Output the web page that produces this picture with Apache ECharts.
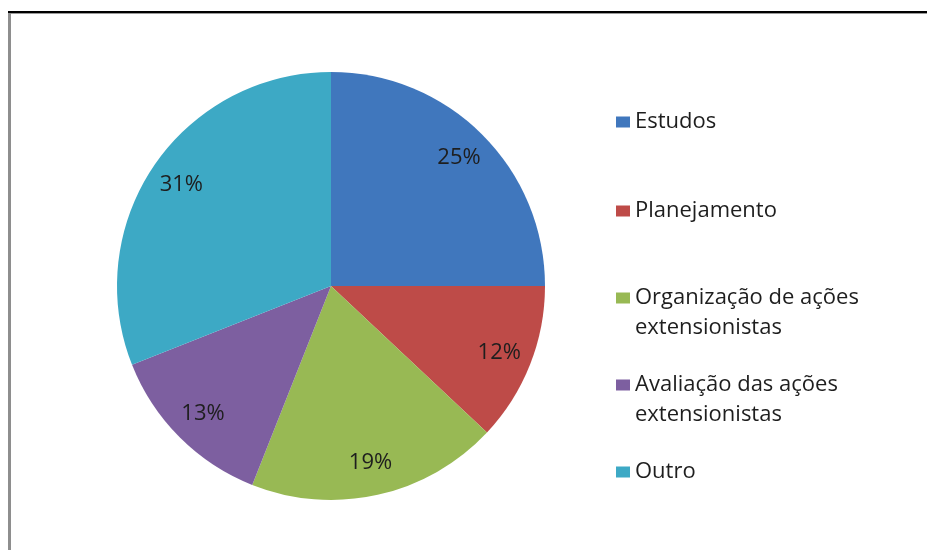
<!DOCTYPE html>
<html>
<head>
<meta charset="utf-8">
<script src="https://cdn.jsdelivr.net/npm/echarts@6/dist/echarts.min.js"></script>
<style>
html,body{margin:0;padding:0;background:#fff;}
#chart{width:927px;height:550px;}
</style>
</head>
<body>
<div id="chart"></div>
<script>
const categories = ['Estudos', 'Planejamento', 'Organização de ações\nextensionistas', 'Avaliação das ações\nextensionistas', 'Outro'];
const values = [25, 12, 19, 13, 31];
const colors = ['#4077BD', '#BE4B48', '#98B954', '#7D5FA0', '#3DA9C5'];
const legendTops = [107, 196, 253, 340, 457];

const chart = echarts.init(document.getElementById('chart'));
const FONT = 'Open Sans';
const mainData = categories.map((n, i) => ({ name: n, value: values[i], itemStyle: { color: colors[i] } }));
const labelData = categories.map((n, i) => ({ name: n, value: values[i], itemStyle: { color: 'rgba(0,0,0,0)' } }));

const legends = categories.map((n, i) => ({
  orient: 'vertical',
  left: 616,
  top: legendTops[i],
  padding: 0,
  icon: 'rect',
  itemWidth: 14,
  itemHeight: 11,
  selectedMode: false,
  data: [{ name: n }],
  formatter: name => (name.indexOf('\n') >= 0 ? ' \n' + name : name),
  textStyle: {
    fontFamily: FONT,
    fontSize: 22,
    color: '#1e1e1e',
    lineHeight: 30
  }
}));

chart.setOption({
  animation: false,
  backgroundColor: '#ffffff',
  legend: legends,
  graphic: [
    { type: 'rect', shape: { x: 8, y: 11, width: 919, height: 2 }, style: { fill: '#000' }, silent: true },
    { type: 'rect', shape: { x: 8, y: 13, width: 919, height: 1 }, style: { fill: '#9a9a9a' }, silent: true },
    { type: 'rect', shape: { x: 8, y: 13, width: 3, height: 537 }, style: { fill: '#8e8e8e' }, silent: true }
  ],
  series: [
    {
      type: 'pie',
      center: [331, 286],
      radius: [0, 214],
      startAngle: 90,
      clockwise: true,
      silent: true,
      label: { show: false },
      labelLine: { show: false },
      emphasis: { disabled: true },
      data: mainData
    },
    {
      type: 'pie',
      center: [331, 286],
      radius: [142, 214],
      startAngle: 90,
      clockwise: true,
      silent: true,
      label: {
        show: true,
        position: 'inside',
        formatter: '{c}%',
        fontFamily: FONT,
        fontSize: 22,
        color: '#1e1e1e'
      },
      labelLine: { show: false },
      emphasis: { disabled: true },
      data: labelData
    }
  ]
});
</script>
</body>
</html>
